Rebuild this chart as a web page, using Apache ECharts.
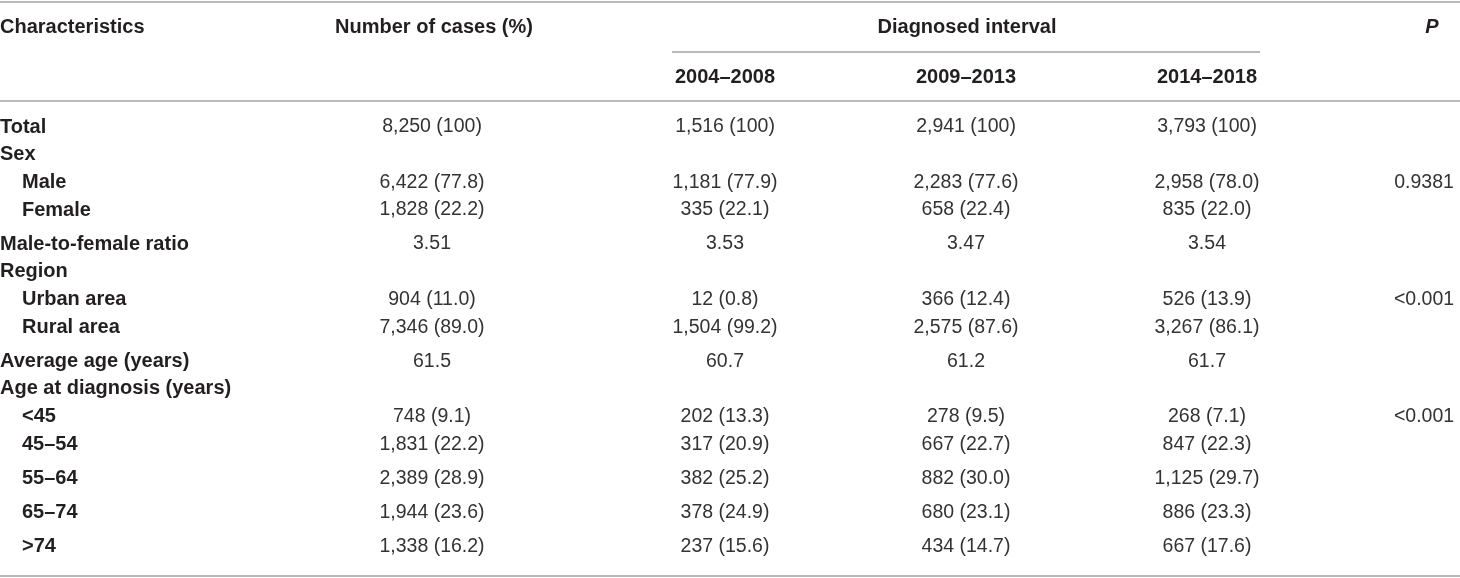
<!DOCTYPE html>
<html>
<head>
<meta charset="utf-8">
<script src="https://cdn.jsdelivr.net/npm/echarts@6/dist/echarts.min.js"></script>
<style>
  html, body { margin: 0; padding: 0; background: #fff; }
  #chart { width: 1460px; height: 578px; }
</style>
</head>
<body>
<div id="chart"></div>
<script>
// table content
const rowLabels = ['Total', 'Sex', 'Male', 'Female', 'Male-to-female ratio', 'Region', 'Urban area', 'Rural area',
  'Average age (years)', 'Age at diagnosis (years)', '<45', '45–54', '55–64', '65–74', '>74']
const indented = [0, 0, 1, 1, 0, 0, 1, 1, 0, 0, 1, 1, 1, 1, 1]

const cases = [8250, null, 6422, 1828, 3.51, null, 904, 7346, 61.5, null, 748, 1831, 2389, 1944, 1338]
const casesPct = [100, null, 77.8, 22.2, null, null, 11.0, 89.0, null, null, 9.1, 22.2, 28.9, 23.6, 16.2]

const cases2004 = [1516, null, 1181, 335, 3.53, null, 12, 1504, 60.7, null, 202, 317, 382, 378, 237]
const pct2004 = [100, null, 77.9, 22.1, null, null, 0.8, 99.2, null, null, 13.3, 20.9, 25.2, 24.9, 15.6]

const cases2009 = [2941, null, 2283, 658, 3.47, null, 366, 2575, 61.2, null, 278, 667, 882, 680, 434]
const pct2009 = [100, null, 77.6, 22.4, null, null, 12.4, 87.6, null, null, 9.5, 22.7, 30.0, 23.1, 14.7]

const cases2014 = [3793, null, 2958, 835, 3.54, null, 526, 3267, 61.7, null, 268, 847, 1125, 886, 667]
const pct2014 = [100, null, 78.0, 22.0, null, null, 13.9, 86.1, null, null, 7.1, 22.3, 29.7, 23.3, 17.6]

const pValues = ['', '', '0.9381', '', '', '', '<0.001', '', '', '', '<0.001', '', '', '', '']

const intervalLabels = ['2004–2008', '2009–2013', '2014–2018']

// layout
const W = 1460
const colCases = 432, colYears = [725, 966, 1207], colP = 1424, indentX = 22
const rowTop = 127, smallGap = 27.7, bigGap = 34
const bigGapBefore = [4, 8, 12, 13, 14]
const labelFont = 'Liberation Sans, Arial, sans-serif'
const ink = '#231f20', valueInk = '#333', rule = '#a3a3a3'

function fmt(n, pct) {
  if (n == null) return ''
  if (pct == null) return String(n)
  return n.toLocaleString('en-US') + ' (' + (pct === 100 ? '100' : pct.toFixed(1)) + ')'
}

const rowY = []
rowLabels.forEach((_, i) => {
  if (i === 0) rowY.push(rowTop)
  else rowY.push(rowY[i - 1] + (bigGapBefore.includes(i) ? bigGap : smallGap))
})

function txt(text, x, y, align, bold, extra) {
  return {
    type: 'text', x: x, y: y, silent: true,
    style: Object.assign({
      text: text, fill: bold ? ink : valueInk,
      fontFamily: labelFont, fontSize: bold ? 20 : 19.5, fontWeight: bold ? 'bold' : 'normal',
      align: align, verticalAlign: 'middle'
    }, extra || {})
  }
}
function hline(x1, x2, y) {
  return { type: 'line', silent: true, shape: { x1: x1, y1: y, x2: x2, y2: y }, style: { stroke: rule, lineWidth: 1.6 } }
}

const els = []
els.push(hline(0, W, 2))
els.push(hline(672, 1260, 52))
els.push(hline(0, W, 101))
els.push(hline(0, W, 576))

els.push(txt('Characteristics', 0, 27, 'left', true))
els.push(txt('Number of cases (%)', 434, 27, 'center', true))
els.push(txt('Diagnosed interval', 967, 27, 'center', true))
els.push(txt('P', colP + 8, 27, 'center', true, { fontStyle: 'italic' }))
intervalLabels.forEach((t, k) => els.push(txt(t, colYears[k], 77, 'center', true)))

const yearCols = [[cases2004, pct2004], [cases2009, pct2009], [cases2014, pct2014]]
rowLabels.forEach((lab, i) => {
  const y = rowY[i]
  els.push(txt(lab, indented[i] ? indentX : 0, y, 'left', true))
  els.push(txt(fmt(cases[i], casesPct[i]), colCases, y, 'center', false))
  yearCols.forEach((c, k) => els.push(txt(fmt(c[0][i], c[1][i]), colYears[k], y, 'center', false)))
  if (pValues[i]) els.push(txt(pValues[i], colP, y, 'center', false))
})

const chart = echarts.init(document.getElementById('chart'))
chart.setOption({
  backgroundColor: '#fff',
  animation: false,
  graphic: { elements: els }
})
</script>
</body>
</html>
